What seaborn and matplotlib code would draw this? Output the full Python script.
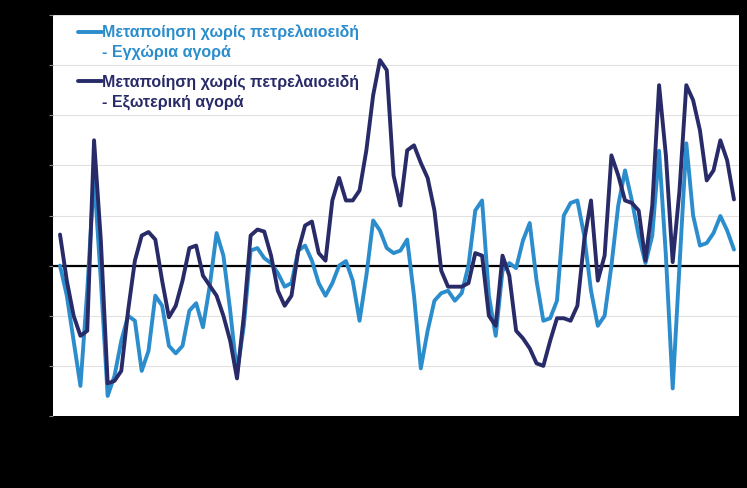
import numpy as np
import pandas as pd
import matplotlib
matplotlib.use("Agg")
import matplotlib.pyplot as plt
from matplotlib.lines import Line2D
import seaborn as sns

months = pd.date_range("2015-01-01", periods=100, freq="MS")

domestic = [
    0.0, -0.6, -1.5, -2.4, -0.5, 1.8, -0.3, -2.6, -2.2, -1.5,
    -1.0, -1.1, -2.1, -1.7, -0.6, -0.8, -1.6, -1.75, -1.6, -0.9,
    -0.75, -1.23, -0.4, 0.65, 0.2, -0.9, -2.15, -1.2, 0.3, 0.35,
    0.15, 0.05, -0.15, -0.42, -0.35, 0.3, 0.4, 0.1, -0.35, -0.6,
    -0.35, 0.0, 0.09, -0.3, -1.1, -0.2, 0.9, 0.7, 0.35, 0.25,
    0.3, 0.52, -0.6, -2.05, -1.3, -0.7, -0.55, -0.5, -0.7, -0.55,
    0.0, 1.1, 1.3, -0.6, -1.4, -0.1, 0.05, -0.05, 0.5, 0.85,
    -0.3, -1.1, -1.05, -0.7, 1.0, 1.25, 1.3, 0.6, -0.5, -1.2,
    -1.0, 0.0, 1.2, 1.9, 1.3, 0.6, 0.05, 0.6, 2.29, 0.2,
    -2.45, 0.0, 2.44, 1.0, 0.4, 0.45, 0.65, 0.99, 0.7, 0.32,
]

external = [
    0.62, -0.3, -1.0, -1.4, -1.3, 2.5, 0.5, -2.35, -2.3, -2.1,
    -0.9, 0.1, 0.6, 0.67, 0.52, -0.3, -1.03, -0.8, -0.3, 0.35,
    0.4, -0.2, -0.4, -0.6, -1.0, -1.5, -2.25, -1.0, 0.6, 0.72,
    0.68, 0.2, -0.5, -0.8, -0.6, 0.3, 0.8, 0.88, 0.25, 0.1,
    1.3, 1.75, 1.3, 1.3, 1.5, 2.3, 3.4, 4.1, 3.9, 1.8,
    1.2, 2.3, 2.4, 2.05, 1.75, 1.1, -0.1, -0.42, -0.42, -0.42,
    -0.35, 0.25, 0.2, -1.0, -1.2, 0.2, -0.2, -1.3, -1.45, -1.65,
    -1.95, -2.0, -1.5, -1.05, -1.05, -1.1, -0.8, 0.5, 1.3, -0.3,
    0.2, 2.2, 1.8, 1.3, 1.25, 1.1, 0.1, 1.2, 3.6, 2.2,
    0.07, 1.5, 3.6, 3.3, 2.7, 1.7, 1.9, 2.5, 2.1, 1.32,
]

label_dom = "Μεταποίηση χωρίς πετρελαιοειδή"
label_dom2 = "- Εγχώρια αγορά"
label_ext = "Μεταποίηση χωρίς πετρελαιοειδή"
label_ext2 = "- Εξωτερική αγορά"

light_blue = "#2B8DCC"
navy = "#282B68"

df = pd.DataFrame({
    "idx": list(range(len(months))) * 2,
    "value": domestic + external,
    "series": ["domestic"] * len(months) + ["external"] * len(months),
})

sns.set_theme(style="white")
plt.rcParams["font.family"] = ["Liberation Sans", "DejaVu Sans"]

fig = plt.figure(figsize=(7.47, 4.88), dpi=100, facecolor="black")
ax = fig.add_axes([53 / 747, 1 - 416 / 488, 686 / 747, 401 / 488])
ax.set_facecolor("white")

ax.axhline(0, color="black", linewidth=1.6, zorder=1)
sns.lineplot(data=df, x="idx", y="value", hue="series",
             palette={"domestic": light_blue, "external": navy},
             hue_order=["domestic", "external"],
             linewidth=2.8, legend=False, ax=ax, zorder=3)
for ln in ax.get_lines():
    ln.set_solid_joinstyle("round")
    ln.set_solid_capstyle("round")

ax.set_xlim(-1.03, len(months) - 1 + 0.74)
ax.set_ylim(-3, 5)
ax.set_yticks(range(-3, 6))
ax.yaxis.grid(True, color="#e2e2e2", linewidth=0.8)
ax.xaxis.grid(False)
ax.set_xlabel("")
ax.set_ylabel("")

tick_pos = list(range(0, len(months), 12))
ax.set_xticks(tick_pos)
ax.set_xticklabels([months[i].strftime("%Y") for i in tick_pos], color="black")
ax.tick_params(axis="y", colors="#888888", labelcolor="black",
               length=3, width=0.8, direction="out", left=True)
ax.tick_params(axis="x", labelcolor="black", bottom=False)
for s in ax.spines.values():
    s.set_visible(False)

# two small legends so the swatch sits on the first line of each label
def add_legend(color, line1, line2, y_anchor):
    handles = [Line2D([], [], color=color, linewidth=2.8),
               Line2D([], [], color="none")]
    leg = ax.legend(handles, [line1, line2], loc="upper left",
                    bbox_to_anchor=(0.0364, y_anchor), frameon=False,
                    handlelength=1.5, handletextpad=0.0, labelspacing=0.3,
                    borderpad=0.0, borderaxespad=0.0,
                    prop={"family": ["Liberation Sans", "DejaVu Sans"],
                          "weight": "bold", "size": 11.5})
    for t in leg.get_texts():
        t.set_color(color)
    return leg

leg1 = add_legend(light_blue, label_dom, label_dom2, 0.976)
ax.add_artist(leg1)
add_legend(navy, label_ext, label_ext2, 0.852)

fig.savefig("out.png", dpi=100, facecolor="black")
